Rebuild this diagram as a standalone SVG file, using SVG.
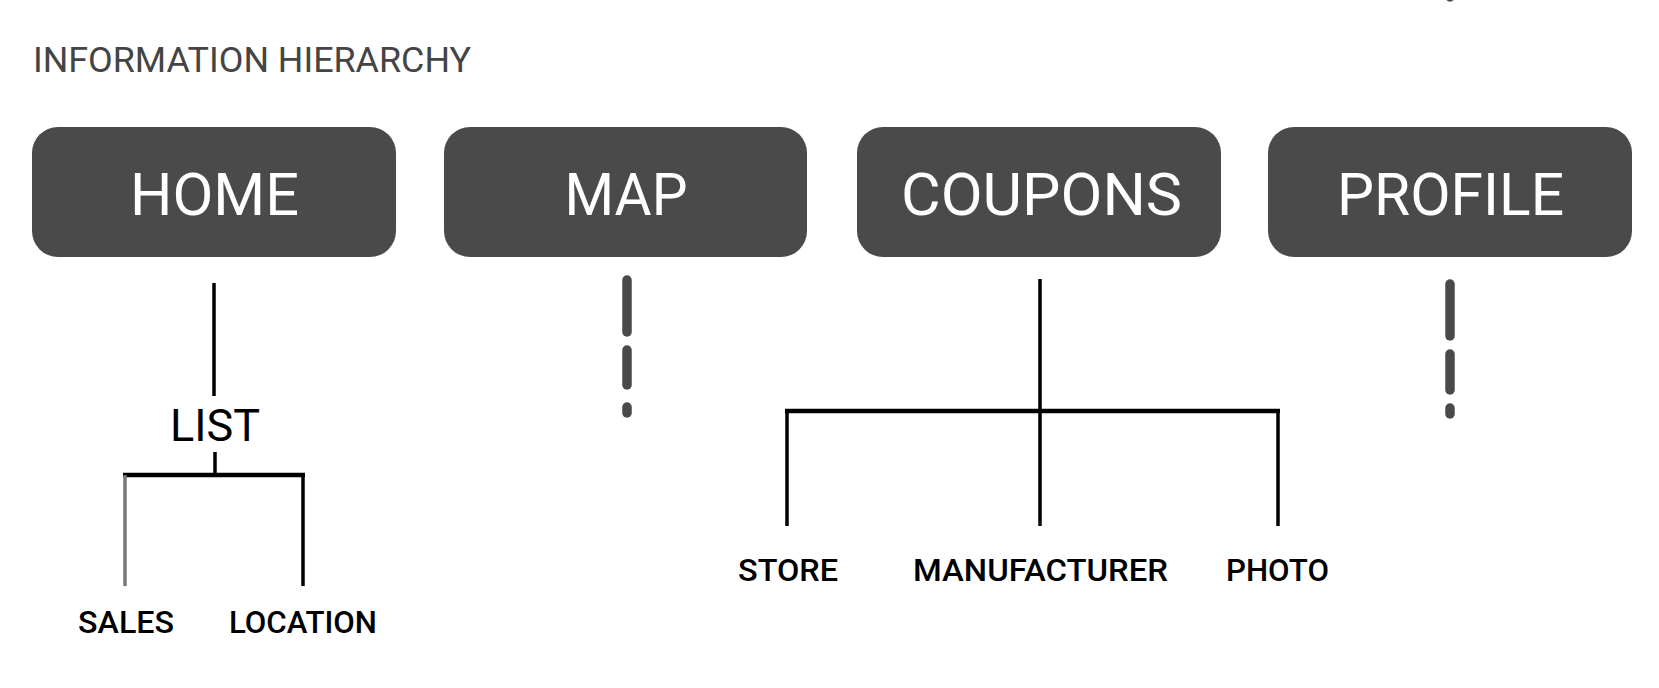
<svg xmlns="http://www.w3.org/2000/svg" width="1659" height="688" viewBox="0 0 1659 688">
<style>
.box{fill:#4a4a4a}
.btxt{font-family:Roboto,"Liberation Sans",sans-serif;font-weight:400;font-size:59px;fill:#ffffff;text-anchor:middle}
.title{font-family:Roboto,"Liberation Sans",sans-serif;font-weight:400;font-size:35px;fill:#444444}
.lbl{font-family:Roboto,"Liberation Sans",sans-serif;font-weight:500;font-size:31px;fill:#000000;text-anchor:middle}
.sub{font-family:Roboto,"Liberation Sans",sans-serif;font-weight:400;font-size:45px;fill:#000000;text-anchor:middle}
.ln{stroke:#000;stroke-width:3.5;fill:none}
.bar{stroke:#000;stroke-width:4.5;fill:none}
.dash{stroke:#4a4a4a;stroke-width:9.5;stroke-linecap:round;fill:none}
</style>
<rect width="1659" height="688" fill="#ffffff"/>
<text class="title" x="33" y="72" textLength="438" lengthAdjust="spacingAndGlyphs">INFORMATION HIERARCHY</text>
<g id="home"><rect class="box" x="32" y="127" width="364" height="130" rx="26"/><text class="btxt" x="214.5" y="215" textLength="169" lengthAdjust="spacingAndGlyphs">HOME</text></g>
<g id="map"><rect class="box" x="444" y="127" width="363" height="130" rx="26"/><text class="btxt" x="626" y="215" textLength="123" lengthAdjust="spacingAndGlyphs">MAP</text></g>
<g id="coupons"><rect class="box" x="857" y="127" width="364" height="130" rx="26"/><text class="btxt" x="1041.5" y="215" textLength="281" lengthAdjust="spacingAndGlyphs">COUPONS</text></g>
<g id="profile"><rect class="box" x="1268" y="127" width="364" height="130" rx="26"/><text class="btxt" x="1450.5" y="215" textLength="227" lengthAdjust="spacingAndGlyphs">PROFILE</text></g>
<g id="list"><text class="sub" x="215" y="441" textLength="90" lengthAdjust="spacingAndGlyphs">LIST</text></g>
<g id="sales"><text class="lbl" x="126" y="633" textLength="96" lengthAdjust="spacingAndGlyphs">SALES</text></g>
<g id="location"><text class="lbl" x="303" y="633" textLength="148" lengthAdjust="spacingAndGlyphs">LOCATION</text></g>
<g id="store"><text class="lbl" x="788" y="581" textLength="100" lengthAdjust="spacingAndGlyphs">STORE</text></g>
<g id="manufacturer"><text class="lbl" x="1040.5" y="581" textLength="255" lengthAdjust="spacingAndGlyphs">MANUFACTURER</text></g>
<g id="photo"><text class="lbl" x="1277.5" y="581" textLength="103" lengthAdjust="spacingAndGlyphs">PHOTO</text></g>
<g id="connectors">
<line class="ln" x1="214" y1="283" x2="214" y2="396"/>
<line class="ln" x1="215" y1="452" x2="215" y2="476"/>
<line class="bar" x1="123" y1="475" x2="305" y2="475"/>
<line x1="125" y1="475" x2="125" y2="586" stroke="#777777" stroke-width="3.5"/>
<line class="ln" x1="303" y1="475" x2="303" y2="586"/>
<line class="ln" x1="1040" y1="279" x2="1040" y2="526"/>
<line class="bar" x1="785" y1="411" x2="1280" y2="411"/>
<line class="ln" x1="787" y1="411" x2="787" y2="526"/>
<line class="ln" x1="1278" y1="411" x2="1278" y2="526"/>
<line class="dash" x1="627" y1="280" x2="627" y2="332"/>
<line class="dash" x1="627" y1="350" x2="627" y2="385"/>
<line class="dash" x1="627" y1="407" x2="627" y2="413"/>
<line class="dash" x1="1450" y1="284" x2="1450" y2="336"/>
<line class="dash" x1="1450" y1="354" x2="1450" y2="390"/>
<line class="dash" x1="1450" y1="408" x2="1450" y2="414"/>
<line class="dash" x1="1450" y1="-12" x2="1450" y2="-3"/>
</g>
</svg>
